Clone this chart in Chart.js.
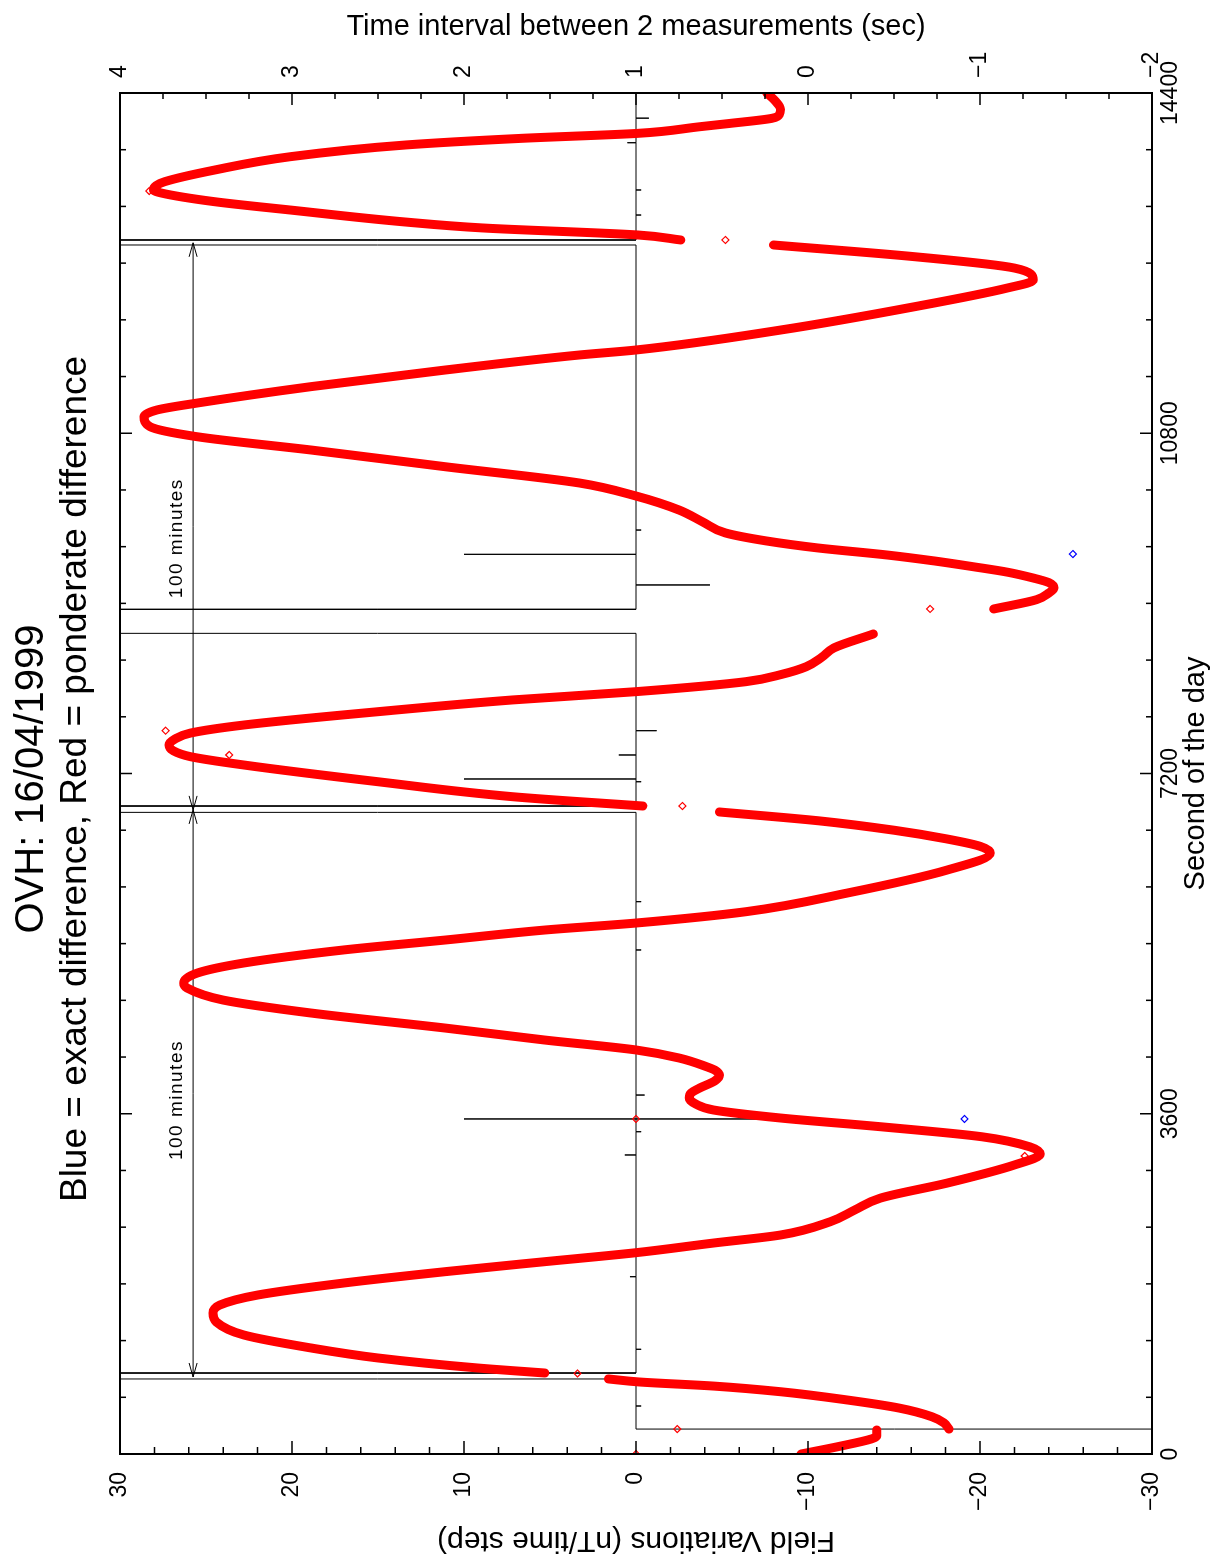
<!DOCTYPE html>
<html>
<head>
<meta charset="utf-8">
<title>OVH 16/04/1999</title>
<script src="https://cdn.jsdelivr.net/npm/chart.js@4.4.0/dist/chart.umd.min.js"></script>
<style>
  html, body { margin: 0; padding: 0; background: #fff; overflow: hidden; }
  /* the plot is drawn landscape, then turned a quarter turn to the left */
  #page {
    position: absolute; left: 0; top: 0;
    width: 1558px; height: 1226px;
    transform-origin: 0 0;
    transform: translateY(1558px) rotate(-90deg);
  }
</style>
</head>
<body>
<div id="page"><canvas id="myChart" width="1558" height="1226"></canvas></div>
<script>
// Red = ponderate difference (nT/time step). null = break in the record
const redTimes = [
  0, 80, 160, 190, 254, 259,
  264, 330, 395, 486, 571, 659, 719, 762, 794, 825,
  857, 910, 1016, 1122, 1259, 1397, 1492, 1576, 1682, 1809, 1929, 2035, 2130, 2232, 2317,
  2458, 2580, 2707, 2867, 3058, 3175, 3250, 3357, 3463, 3555, 3640, 3700, 3767, 3820, 3872,
  3950, 4010, 4060, 4098, 4190, 4275, 4380, 4507, 4666, 4803, 4930, 4983, 5089, 5195, 5333,
  5438, 5544, 5618, 5738, 5936, 6179, 6359, 6430, 6510, 6600, 6700, 6793, 6820,
  6856, 6955, 7113, 7290, 7378, 7440, 7502, 7565, 7628, 7713, 7854, 7978, 8066, 8172, 8250,
  8330, 8430, 8528, 8676, 8800,
  8941, 9040, 9110, 9163, 9220, 9268, 9330, 9388, 9450, 9512, 9586, 9660, 9745, 9860, 9988,
  10136, 10274, 10446, 10623, 10763, 10869, 10975, 11046, 11120, 11293, 11469, 11628, 11681,
  11892, 12139, 12337, 12421, 12548, 12668, 12792, 12820,
  12845, 12898, 12972, 13035, 13162, 13250, 13342, 13374, 13420, 13462, 13585, 13726, 13850,
  13920, 13973, 14043, 14079, 14132, 14180, 14227, 14326, 14400
];
const redValues = [
  -9.6, -11.8, -13.7, -14.0, -14.0, null,
  -18.2, -17.9, -17.2, -15.3, -12.3, -8.4, -4.5, -0.2, 1.6, null,
  5.3, 9.2, 15.0, 18.9, 22.8, 24.4, 24.6, 24.2, 22.0, 17.0, 11.1, 5.3, 0, -4.5, -8.4,
  -11.3, -12.7, -14.2, -18.1, -22.0, -23.5, -22.9, -20.1, -14.2, -8.4, -4.5, -3.5, -3.1, -3.2, -3.7,
  -4.6, -4.85, -4.6, -4.1, -2.5, 0, 5.3, 11.1, 18.9, 24.0, 26.1, 26.3, 25.5, 22.8, 17.0,
  11.1, 5.3, 0, -6.4, -12.3, -18.1, -20.6, -20.0, -18.0, -15.0, -10.6, -4.85, null,
  -0.4, 7.2, 15.0, 22.8, 25.9, 26.9, 27.15, 26.8, 25.9, 22.8, 15.0, 7.2, 0, -6.4, -8.5,
  -9.9, -10.8, -11.5, -13.8, null,
  -20.8, -23.3, -24.0, -24.3, -24.0, -23.1, -21.6, -19.6, -17.3, -14.6, -10.6, -7.6, -5.2, -3.9, -2.5,
  0, 3.3, 11.1, 18.9, 25.5, 28.25, 28.6, 27.85, 25.5, 18.9, 11.1, 3.3, 0,
  -8.4, -16.2, -21.6, -23.1, -22.0, -16.2, -8.0, null,
  -2.6, -0.1, 8.9, 13.4, 20.1, 24.5, 27.6, 28.05, 27.9, 27.4, 24.5, 20.1, 13.4,
  6.7, -0.1, -3.7, -5.5, -7.9, -8.35, -8.4, -8.05, -7.6
];

// isolated points that stand off the curve
const redDotTimes = [0, 264, 852, 3153, 3545, 6856, 7396, 7653, 8941, 10990, 12845, 13363];
const redDotValues = [0, -2.4, 3.4, -22.6, 0, -2.7, 23.65, 27.35, -17.1, 28.5, -5.2, 28.3];

// Blue = exact difference (only visible where it leaves the red curve)
const blueDotTimes = [3545, 9522];
const blueDotValues = [-19.1, -25.4];

// Time interval between 2 measurements (sec), right axis
const intervalTimes = [
  0, 264, 264, 508, 508, 508, 794, 794, 857, 857,
  1108, 1108, 1108, 1876, 1876, 1876, 3164, 3164, 3164, 3410, 3410, 3410,
  3545, 3545, 3545, 3545, 3798, 3798, 3798, 5333, 5333, 5333, 5844, 5844, 5844,
  6789, 6789, 6856, 6856, 7113, 7113, 7113, 7142, 7142, 7142, 7396, 7396, 7396,
  7653, 7653, 7653, 8683, 8683, 8937, 8937, 9195, 9195, 9195, 9519, 9519, 9519,
  9776, 9776, 9776, 12792, 12792, 12845, 12845, 13109, 13109, 13109,
  13374, 13374, 13374, 13874, 13874, 13874, 14134, 14134, 14134, 14400
];
const intervalValues = [
  -3, -3, 1, 1, 0.97, 1, 1, 60, 60, 1,
  1, 0.97, 1, 1, 1.035, 1, 1, 1.065, 1, 1, 0.97, 1,
  1, 2, 0, 1, 1, 0.95, 1, 1, 0.97, 1, 1, 0.97, 1,
  1, 60, 60, 1, 1, 0.97, 1, 1, 2, 1, 1, 1.1, 1,
  1, 0.88, 1, 1, 250, 250, 1, 1, 0.57, 1, 1, 2, 1,
  1, 0.97, 1, 1, 50, 50, 1, 1, 0.97, 1,
  1, 0.97, 1, 1, 1.05, 1, 1, 0.925, 1, 1
];

// 100 minute markers (seconds of the day, drawn at a field level)
const arrowStarts = [815, 6815];
const arrowEnds = [6815, 12815];
const arrowLabelTimes = [3745, 9690];
const arrowLevel = 25.75;
const arrowLabelLevel = 26.7;

function toPoints(xs, ys) {
  return xs.map((x, i) => ({ x: x, y: ys[i] }));
}

Chart.defaults.font.family = '"Liberation Sans", Arial, Helvetica, sans-serif';
Chart.defaults.color = '#000';

// boxed frame with inward tick marks on all four sides
const frameTicks = {
  id: 'frameTicks',
  afterDraw(chart) {
    const { ctx, chartArea: a, scales } = chart;
    ctx.save();
    ctx.strokeStyle = '#000';
    ctx.lineWidth = 1.5;
    ctx.beginPath();
    for (let t = 0; t <= 14400; t += 600) {
      const px = scales.x.getPixelForValue(t);
      const len = t % 3600 === 0 ? 12 : 6;
      ctx.moveTo(px, a.bottom); ctx.lineTo(px, a.bottom - len);
      ctx.moveTo(px, a.top); ctx.lineTo(px, a.top + len);
    }
    for (let v = -30; v <= 30; v += 2) {
      const py = scales.y.getPixelForValue(v);
      const len = v % 10 === 0 ? 13 : 7;
      ctx.moveTo(a.left, py); ctx.lineTo(a.left + len, py);
    }
    for (let w = -2; w <= 4; w += 0.25) {
      const py = scales.y2.getPixelForValue(w);
      const len = Number.isInteger(w) ? 12 : 6;
      ctx.moveTo(a.right, py); ctx.lineTo(a.right - len, py);
    }
    ctx.stroke();
    ctx.lineWidth = 2;
    ctx.strokeRect(a.left, a.top, a.right - a.left, a.bottom - a.top);
    ctx.restore();
  }
};

// "100 minutes" double arrows
const hundredMinutes = {
  id: 'hundredMinutes',
  beforeDatasetsDraw(chart) {
    const { ctx, scales: { x, y } } = chart;
    const py = y.getPixelForValue(arrowLevel);
    ctx.save();
    ctx.strokeStyle = '#000';
    ctx.fillStyle = '#000';
    ctx.lineWidth = 1;
    ctx.font = '19px "Liberation Sans", Arial, sans-serif';
    ctx.letterSpacing = '1.5px';
    ctx.textAlign = 'center';
    ctx.textBaseline = 'middle';
    arrowStarts.forEach((s, i) => {
      const x0 = x.getPixelForValue(s);
      const x1 = x.getPixelForValue(arrowEnds[i]);
      ctx.beginPath();
      ctx.moveTo(x0, py); ctx.lineTo(x1, py);
      ctx.moveTo(x0 + 14, py - 4); ctx.lineTo(x0, py); ctx.lineTo(x0 + 14, py + 4);
      ctx.moveTo(x1 - 14, py - 4); ctx.lineTo(x1, py); ctx.lineTo(x1 - 14, py + 4);
      ctx.stroke();
      ctx.fillText('100 minutes', x.getPixelForValue(arrowLabelTimes[i]), y.getPixelForValue(arrowLabelLevel));
    });
    ctx.restore();
  }
};

const minus = v => String(v).replace('-', '\u2212');

new Chart(document.getElementById('myChart'), {
  type: 'line',
  data: {
    datasets: [
      {
        label: 'Red = ponderate difference',
        data: toPoints(redTimes, redValues),
        borderColor: '#ff0000',
        borderWidth: 9,
        borderCapStyle: 'round',
        borderJoinStyle: 'round',
        pointRadius: 0,
        cubicInterpolationMode: 'monotone',
        spanGaps: false,
        yAxisID: 'y',
        order: 1
      },
      {
        label: 'red points',
        data: toPoints(redDotTimes, redDotValues),
        showLine: false,
        pointStyle: 'rectRot',
        pointRadius: 3.5,
        pointBorderWidth: 1.2,
        pointBorderColor: '#ff0000',
        pointBackgroundColor: 'rgba(0,0,0,0)',
        yAxisID: 'y',
        order: 0
      },
      {
        label: 'Blue = exact difference',
        data: toPoints(blueDotTimes, blueDotValues),
        showLine: false,
        pointStyle: 'rectRot',
        pointRadius: 3.5,
        pointBorderWidth: 1.2,
        pointBorderColor: '#0000ff',
        pointBackgroundColor: 'rgba(0,0,0,0)',
        yAxisID: 'y',
        order: 0
      },
      {
        label: 'Time interval',
        data: toPoints(intervalTimes, intervalValues),
        borderColor: '#000',
        borderWidth: 1,
        pointRadius: 0,
        tension: 0,
        yAxisID: 'y2',
        order: 2
      }
    ]
  },
  options: {
    responsive: false,
    devicePixelRatio: 1,
    animation: false,
    events: [],
    layout: { padding: 0 },
    plugins: {
      legend: { display: false },
      tooltip: { enabled: false },
      title: {
        display: true,
        text: 'OVH: 16/04/1999',
        font: { size: 40, weight: 'normal', lineHeight: 1 },
        padding: { top: 12, bottom: 0 }
      },
      subtitle: {
        display: true,
        text: 'Blue = exact difference, Red = ponderate difference',
        font: { size: 37, weight: 'normal', lineHeight: 1 },
        padding: { top: 5.5, bottom: 25.5 }
      }
    },
    scales: {
      x: {
        type: 'linear',
        position: 'bottom',
        min: 0,
        max: 14400,
        afterFit: s => { s.height = 74; },
        grid: { display: false, drawTicks: false },
        border: { display: false },
        ticks: {
          stepSize: 3600,
          autoSkip: false,
          maxRotation: 0,
          padding: 5,
          font: { size: 23 },
          callback: v => String(v)
        },
        title: {
          display: true,
          text: 'Second of the day',
          font: { size: 29 },
          padding: { top: 0, bottom: 13 }
        }
      },
      y: {
        type: 'linear',
        position: 'left',
        min: -30,
        max: 30,
        afterFit: s => { s.width = 104; },
        grid: { display: false, drawTicks: false },
        border: { display: false },
        ticks: { stepSize: 10, padding: 18, font: { size: 23 }, callback: minus },
        title: {
          display: true,
          text: 'Field Variations (nT/time step)',
          font: { size: 30 },
          padding: { top: 0, bottom: 0 }
        }
      },
      y2: {
        type: 'linear',
        position: 'right',
        min: -2,
        max: 4,
        afterFit: s => { s.width = 93; },
        grid: { display: false, drawTicks: false },
        border: { display: false },
        ticks: { stepSize: 1, padding: 15, font: { size: 23 }, callback: minus },
        title: {
          display: true,
          text: 'Time interval between 2 measurements (sec)',
          font: { size: 29 },
          padding: { top: 9.6, bottom: 0 }
        }
      }
    }
  },
  plugins: [hundredMinutes, frameTicks]
});
</script>
</body>
</html>
